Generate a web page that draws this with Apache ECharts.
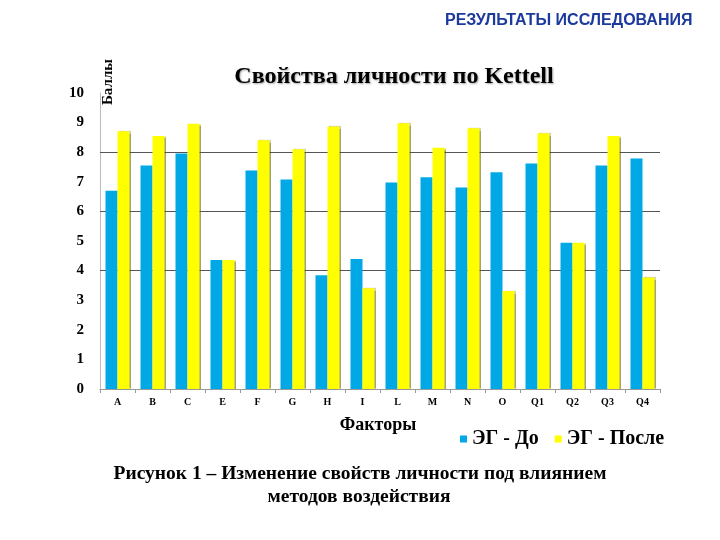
<!DOCTYPE html>
<html>
<head>
<meta charset="utf-8">
<script src="https://cdn.jsdelivr.net/npm/echarts@6/dist/echarts.min.js"></script>
<style>
  html, body { margin: 0; padding: 0; background: #fff; }
  #chart { width: 720px; height: 540px; }
</style>
</head>
<body>
<div id="chart"></div>
<script>
// факторы Кеттелла
const factors = ['A', 'B', 'C', 'E', 'F', 'G', 'H', 'I', 'L', 'M', 'N', 'O', 'Q1', 'Q2', 'Q3', 'Q4'];
const egBefore = [6.70, 7.55, 7.96, 4.36, 7.38, 7.08, 3.84, 4.39, 6.98, 7.15, 6.81, 7.32, 7.62, 4.94, 7.55, 7.79];
const egAfter = [8.71, 8.55, 8.96, 4.36, 8.40, 8.10, 8.87, 3.40, 8.98, 8.15, 8.81, 3.31, 8.64, 4.94, 8.55, 3.77];
const gridValues = [4, 6, 8];

const serif = '"Liberation Serif", "Times New Roman", serif';

const chart = echarts.init(document.getElementById('chart'));

const options = {
    backgroundColor: '#FFFFFF',
    title: {
        text: 'Свойства личности по Kettell',
        left: 389,
        top: 60,
        textAlign: 'center',
        textStyle: {
            fontFamily: serif,
            fontWeight: 'bold',
            fontSize: 24,
            color: '#000',
            textShadowColor: 'rgba(0,0,0,0.35)',
            textShadowBlur: 2,
            textShadowOffsetX: 1,
            textShadowOffsetY: 1
        }
    },
    legend: {
        data: ['ЭГ - До', 'ЭГ - После'],
        left: 455,
        top: 424,
        itemWidth: 7,
        itemHeight: 7,
        itemGap: 16,
        icon: 'rect',
        textStyle: {
            fontFamily: serif,
            fontWeight: 'bold',
            fontSize: 20,
            color: '#000'
        }
    },
    grid: {
        left: 100,
        right: 60,
        top: 93,
        bottom: 151
    },
    xAxis: {
        type: 'category',
        data: factors,
        name: 'Факторы',
        nameLocation: 'middle',
        nameGap: 27,
        nameTextStyle: {
            fontFamily: serif,
            fontWeight: 'bold',
            fontSize: 18,
            color: '#000',
            padding: [0, 4, 0, 0]
        },
        axisLine: { lineStyle: { color: '#999', width: 1 } },
        axisTick: { show: true, length: 4, lineStyle: { color: '#999' } },
        axisLabel: {
            fontFamily: serif,
            fontWeight: 'bold',
            fontSize: 10,
            color: '#000',
            margin: 8
        }
    },
    yAxis: {
        type: 'value',
        min: 0,
        max: 10,
        interval: 1,
        axisLine: { show: true, lineStyle: { color: '#bbb', width: 1 } },
        axisTick: { show: false },
        splitLine: { show: false },
        axisLabel: {
            fontFamily: serif,
            fontWeight: 'bold',
            fontSize: 15,
            color: '#000',
            margin: 16
        }
    },
    series: [{
        type: 'line',
        data: [],
        silent: true,
        markLine: {
            silent: true,
            symbol: 'none',
            label: { show: false },
            lineStyle: { color: '#555', type: 'solid', width: 1 },
            data: gridValues.map(v => ({ yAxis: v }))
        }
    }, {
        name: 'ЭГ - До',
        type: 'bar',
        zlevel: 1,
        data: egBefore,
        barWidth: 12,
        barGap: '0%',
        itemStyle: { color: '#00A8E6' }
    }, {
        name: 'ЭГ - После',
        type: 'bar',
        zlevel: 1,
        data: egAfter,
        barWidth: 12,
        itemStyle: {
            color: '#FFFF00',
            shadowColor: 'rgba(90,90,0,0.55)',
            shadowBlur: 1,
            shadowOffsetX: 1
        }
    }],
    graphic: [{
        type: 'text',
        left: 445,
        top: 13,
        style: {
            text: 'РЕЗУЛЬТАТЫ ИССЛЕДОВАНИЯ',
            font: 'bold 16px "Liberation Sans", Arial, sans-serif',
            fill: '#1C3A9E'
        }
    }, {
        type: 'text',
        x: 108,
        y: 82,
        rotation: Math.PI / 2,
        style: {
            text: 'Баллы',
            font: 'bold 15px ' + serif,
            fill: '#000',
            align: 'center',
            verticalAlign: 'middle'
        }
    }, {
        type: 'text',
        x: 360,
        y: 474,
        style: {
            text: 'Рисунок 1 – Изменение свойств личности под влиянием',
            font: 'bold 19.5px ' + serif,
            fill: '#000',
            align: 'center',
            verticalAlign: 'middle'
        }
    }, {
        type: 'text',
        x: 359,
        y: 497,
        style: {
            text: 'методов воздействия',
            font: 'bold 19.5px ' + serif,
            fill: '#000',
            align: 'center',
            verticalAlign: 'middle'
        }
    }]
};

chart.setOption(options);
</script>
</body>
</html>
